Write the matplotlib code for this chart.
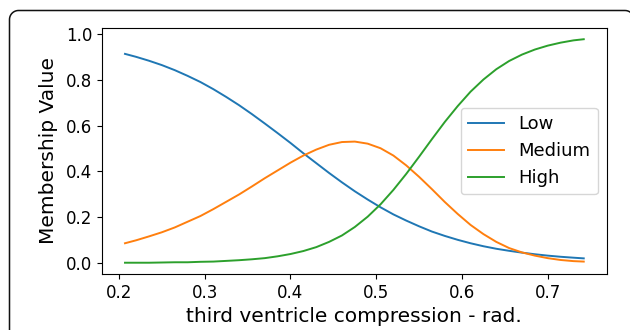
import numpy as np
import matplotlib
matplotlib.use("Agg")
import matplotlib.pyplot as plt
from matplotlib.lines import Line2D
from matplotlib.transforms import IdentityTransform

plt.rcParams['savefig.bbox'] = 'standard'

# values
x = [0.207, 0.22, 0.235, 0.25, 0.265, 0.28, 0.295, 0.31, 0.325, 0.34, 0.355, 0.37,
     0.385, 0.40, 0.415, 0.43, 0.445, 0.46, 0.475, 0.49, 0.505, 0.52, 0.535, 0.55,
     0.565, 0.58, 0.595, 0.61, 0.625, 0.64, 0.655, 0.67, 0.685, 0.70, 0.715, 0.73, 0.742]
low = [0.913, 0.900, 0.883, 0.864, 0.842, 0.817, 0.790, 0.759, 0.725, 0.689, 0.650, 0.609,
       0.567, 0.524, 0.479, 0.436, 0.393, 0.352, 0.313, 0.277, 0.243, 0.212, 0.185, 0.160,
       0.137, 0.118, 0.101, 0.086, 0.073, 0.062, 0.053, 0.045, 0.038, 0.032, 0.027, 0.023, 0.020]
medium = [0.086, 0.099, 0.116, 0.134, 0.155, 0.180, 0.205, 0.235, 0.267, 0.299, 0.334, 0.370,
          0.404, 0.438, 0.469, 0.495, 0.516, 0.528, 0.530, 0.521, 0.501, 0.469, 0.426, 0.376,
          0.322, 0.266, 0.214, 0.166, 0.126, 0.092, 0.065, 0.046, 0.032, 0.021, 0.013, 0.008, 0.006]
high = [0.001, 0.001, 0.001, 0.002, 0.003, 0.003, 0.005, 0.006, 0.009, 0.012, 0.016, 0.021,
        0.029, 0.039, 0.052, 0.069, 0.092, 0.120, 0.157, 0.202, 0.256, 0.319, 0.389, 0.464,
        0.541, 0.616, 0.685, 0.748, 0.801, 0.846, 0.882, 0.910, 0.932, 0.949, 0.962, 0.972, 0.977]
labels = ['Low', 'Medium', 'High']

fig = plt.figure(figsize=(6.3, 3.3), dpi=100)
ax = fig.add_axes([0.162, 0.170, 0.801, 0.745])

for ys, lab in zip([low, medium, high], labels):
    ax.plot(x, ys, lw=1.4, label=lab)

ax.set_xticks([0.2, 0.3, 0.4, 0.5, 0.6, 0.7])
ax.set_yticks([0.0, 0.2, 0.4, 0.6, 0.8, 1.0])
ax.tick_params(labelsize=12)
ax.set_xlabel('third ventricle compression - rad.', fontsize=14.5, labelpad=4)
ax.set_ylabel('Membership Value', fontsize=14.5, labelpad=6)
ax.legend(loc='center right', fontsize=13)

# open rounded frame: left side, top-left corner, top, top-right corner
# (pixel coords; the rest of the box lies outside the image)
r = 9
left, top, right = 9.5, 319.5, 634
t = np.linspace(0, np.pi / 2, 12)
fx = np.concatenate([[left], left + r - r * np.cos(t), right - r + r * np.sin(t)])
fy = np.concatenate([[-10], top - r + r * np.sin(t), top - r + r * np.cos(t)])
fig.add_artist(Line2D(fx, fy, transform=IdentityTransform(), color='#111111', lw=1.1))

fig.savefig('out.png', dpi=100, bbox_inches=fig.bbox_inches)
